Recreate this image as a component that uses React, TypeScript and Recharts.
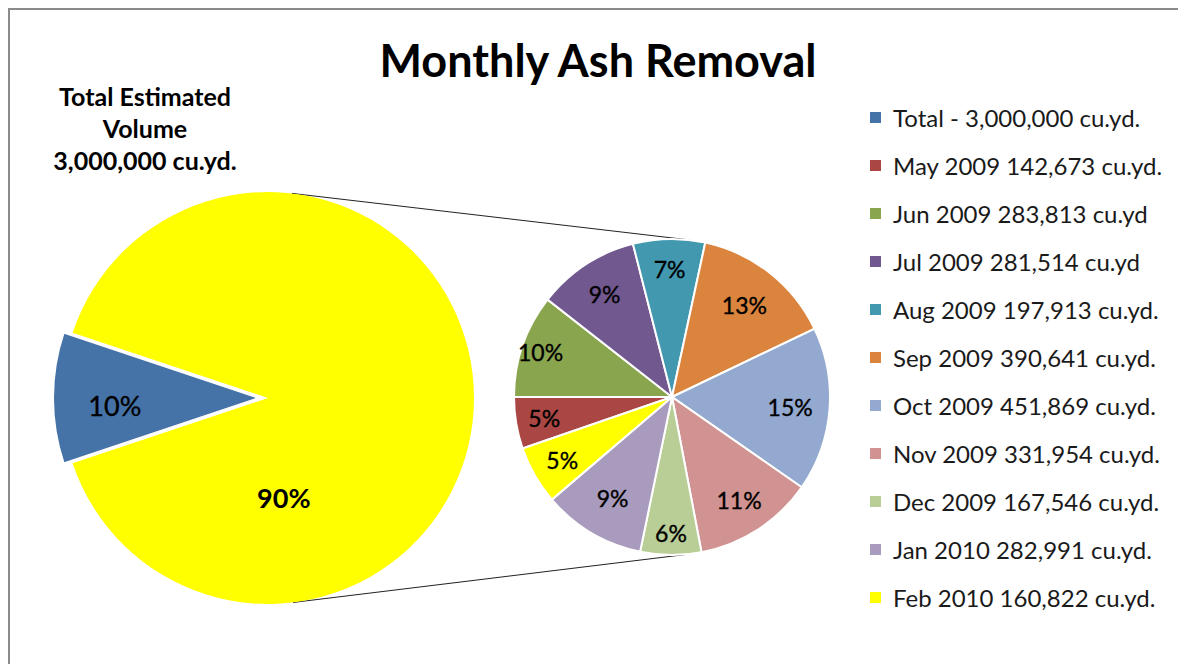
import React, { useLayoutEffect } from "react";
import { PieChart, Pie, Cell, Legend, Customized } from "recharts";

// ---------- data ----------
const months = ["May 2009", "Jun 2009", "Jul 2009", "Aug 2009", "Sep 2009", "Oct 2009", "Nov 2009", "Dec 2009", "Jan 2010", "Feb 2010"];
const monthVolumes = [142673, 283813, 281514, 197913, 390641, 451869, 331954, 167546, 282991, 160822];
const monthPercentLabels = ["5%", "10%", "9%", "7%", "13%", "15%", "11%", "6%", "9%", "5%"];
const monthLegendLabels = [
  "May 2009 142,673 cu.yd.",
  "Jun 2009 283,813 cu.yd",
  "Jul 2009 281,514 cu.yd",
  "Aug 2009 197,913 cu.yd.",
  "Sep 2009 390,641 cu.yd.",
  "Oct 2009 451,869 cu.yd.",
  "Nov 2009 331,954 cu.yd.",
  "Dec 2009 167,546 cu.yd.",
  "Jan 2010 282,991 cu.yd.",
  "Feb 2010 160,822 cu.yd.",
];
const monthColors = ["#AA4643", "#89A54E", "#71588F", "#4198AF", "#DB843D", "#93A9CF", "#D19392", "#B9CD96", "#A99BBD", "#FFFF00"];

const overviewNames = ["Total", "Removed"];
const overviewValues = [308264, 2691736];
const overviewLabels = ["10%", "90%"];
const overviewColors = ["#4572A7", "#FFFF00"];
const totalLegendLabel = "Total - 3,000,000 cu.yd.";

const titleText = "Monthly Ash Removal";
const estimatedLines = ["Total Estimated", "Volume", "3,000,000 cu.yd."];
const removedLines = ["Total Cumulative", "Volume Removed", "2,691,736 cu.yd."];

const monthData = months.map((m, i) => ({ name: m, value: monthVolumes[i] }));
const overviewData = overviewNames.map((n, i) => ({ name: n, value: overviewValues[i] }));

// ---------- layout / style ----------
const W = 1162;
const H = 648;
const FONT = "Lato, 'Open Sans', sans-serif";
const LEFT = { cx: 260, cy: 390, r: 206 };
const EXPLODE = 9;
const RIGHT = { cx: 664, cy: 389, r: 158 };
const RIGHT_START = 199;
const labelRadiusFactors = [0.82, 0.88, 0.78, 0.81, 0.74, 0.75, 0.78, 0.86, 0.74, 0.8];
const RAD = Math.PI / 180;

const blueAngle = (overviewValues[0] / (overviewValues[0] + overviewValues[1])) * 360;
const LEFT_START = 180 - blueAngle / 2;

const renderMonthLabel = (p: any) => {
  const r = p.outerRadius * labelRadiusFactors[p.index];
  const x = p.cx + r * Math.cos(-p.midAngle * RAD);
  const y = p.cy + r * Math.sin(-p.midAngle * RAD);
  return (
    <text key={"ml" + p.index} x={x} y={y} textAnchor="middle" dominantBaseline="central" fontFamily={FONT} fontSize={23} fill="#000" stroke="#000" strokeWidth={0.35}>
      {monthPercentLabels[p.index]}
    </text>
  );
};

const renderBlueLabel = (p: any) => {
  if (p.index !== 0) return null;
  const r = p.outerRadius * 0.7;
  const x = p.cx + r * Math.cos(-p.midAngle * RAD);
  const y = p.cy + r * Math.sin(-p.midAngle * RAD) + 7;
  return (
    <text key="bl" x={x} y={y} textAnchor="middle" dominantBaseline="central" fontFamily={FONT} fontSize={27} fill="#000" stroke="#000" strokeWidth={0.35}>
      {overviewLabels[0]}
    </text>
  );
};

const renderYellowLabel = (p: any) => {
  if (p.index !== 1) return null;
  const ang = -81;
  const r = p.outerRadius * 0.49;
  const x = p.cx + r * Math.cos(-ang * RAD);
  const y = p.cy + r * Math.sin(-ang * RAD);
  return (
    <text key="yl" x={x} y={y} textAnchor="middle" dominantBaseline="central" fontFamily={FONT} fontWeight="bold" fontSize={27} fill="#000">
      {overviewLabels[1]}
    </text>
  );
};

const Overlay = () => {
  // external tangent connectors between the two pies
  const dx = RIGHT.cx - LEFT.cx;
  const dy = RIGHT.cy - LEFT.cy;
  const d = Math.sqrt(dx * dx + dy * dy);
  const ux = dx / d;
  const uy = dy / d;
  const c = (LEFT.r - RIGHT.r) / d;
  const s = Math.sqrt(1 - c * c);
  const nx = uy;
  const ny = -ux;
  const v1 = { x: c * ux + s * nx, y: c * uy + s * ny };
  const v2 = { x: c * ux - s * nx, y: c * uy - s * ny };
  return (
    <g>
      <line x1={LEFT.cx + LEFT.r * v1.x} y1={LEFT.cy + LEFT.r * v1.y} x2={RIGHT.cx + RIGHT.r * v1.x} y2={RIGHT.cy + RIGHT.r * v1.y} stroke="#222" strokeWidth={1} />
      <line x1={LEFT.cx + LEFT.r * v2.x} y1={LEFT.cy + LEFT.r * v2.y} x2={RIGHT.cx + RIGHT.r * v2.x} y2={RIGHT.cy + RIGHT.r * v2.y} stroke="#222" strokeWidth={1} />
      <text x={590} y={69} textAnchor="middle" fontFamily={FONT} fontWeight="bold" fontSize={45} fill="#000">
        {titleText}
      </text>
      {estimatedLines.map((t, i) => (
        <text key={"e" + i} x={137} y={88 + i * 32} textAnchor="middle" dominantBaseline="central" fontFamily={FONT} fontWeight="bold" fontSize={25} fill="#000">
          {t}
        </text>
      ))}
      {removedLines.map((t, i) => (
        <text key={"r" + i} x={296} y={262 + i * 31.5} textAnchor="middle" dominantBaseline="central" fontFamily={FONT} fontWeight="bold" fontSize={25} fill="#000">
          {t}
        </text>
      ))}
    </g>
  );
};

const renderLegend = () => {
  const items = [{ label: totalLegendLabel, color: overviewColors[0] }].concat(
    monthLegendLabels.map((l, i) => ({ label: l, color: monthColors[i] }))
  );
  return (
    <div style={{ fontFamily: FONT }}>
      {items.map((it, i) => (
        <div key={i} style={{ height: 48, display: "flex", alignItems: "center" }}>
          <span style={{ width: 11, height: 11, background: it.color, display: "inline-block", marginRight: 12, flex: "none" }} />
          <span style={{ fontSize: 24, color: "#1a1a1a", whiteSpace: "nowrap" }}>{it.label}</span>
        </div>
      ))}
    </div>
  );
};

export default function App() {
  useLayoutEffect(() => {
    document.documentElement.style.overflow = "hidden";
    document.body.style.overflow = "hidden";
  }, []);
  return (
    <div style={{ position: "relative", width: W, height: H }}>
      <PieChart width={W} height={H} margin={{ top: 0, right: 0, bottom: 0, left: 0 }}>
        <Customized component={Overlay} />
        <Pie
          data={overviewData}
          dataKey="value"
          cx={LEFT.cx}
          cy={LEFT.cy}
          outerRadius={LEFT.r}
          startAngle={LEFT_START}
          endAngle={LEFT_START + 360}
          isAnimationActive={false}
          label={renderYellowLabel}
          labelLine={false}
          stroke="none"
        >
          {overviewData.map((e, i) => (
            <Cell key={i} fill={i === 1 ? overviewColors[1] : "none"} stroke="none" />
          ))}
        </Pie>
        <Pie
          data={overviewData}
          dataKey="value"
          cx={LEFT.cx - EXPLODE}
          cy={LEFT.cy}
          outerRadius={LEFT.r}
          startAngle={LEFT_START}
          endAngle={LEFT_START + 360}
          isAnimationActive={false}
          label={renderBlueLabel}
          labelLine={false}
        >
          {overviewData.map((e, i) => (
            <Cell key={i} fill={i === 0 ? overviewColors[0] : "none"} stroke={i === 0 ? "#fff" : "none"} strokeWidth={2} />
          ))}
        </Pie>
        <Pie
          data={monthData}
          dataKey="value"
          cx={RIGHT.cx}
          cy={RIGHT.cy}
          outerRadius={RIGHT.r}
          startAngle={RIGHT_START}
          endAngle={RIGHT_START - 360}
          isAnimationActive={false}
          label={renderMonthLabel}
          labelLine={false}
          stroke="#fff"
          strokeWidth={2}
        >
          {monthData.map((e, i) => (
            <Cell key={i} fill={monthColors[i]} />
          ))}
        </Pie>
        <Legend layout="vertical" align="right" verticalAlign="top" content={renderLegend} wrapperStyle={{ left: 862, top: 85, width: 295 }} />
      </PieChart>
      <div style={{ position: "fixed", left: 1166, top: 10, width: 12, height: 654, background: "#fff", zIndex: 10, pointerEvents: "none" }} />
      <div style={{ position: "fixed", left: 8, top: 8, width: 1170, height: 656, borderTop: "2px solid #8a8a8a", borderLeft: "2px solid #8a8a8a", boxSizing: "border-box", pointerEvents: "none", zIndex: 11 }} />
    </div>
  );
}
